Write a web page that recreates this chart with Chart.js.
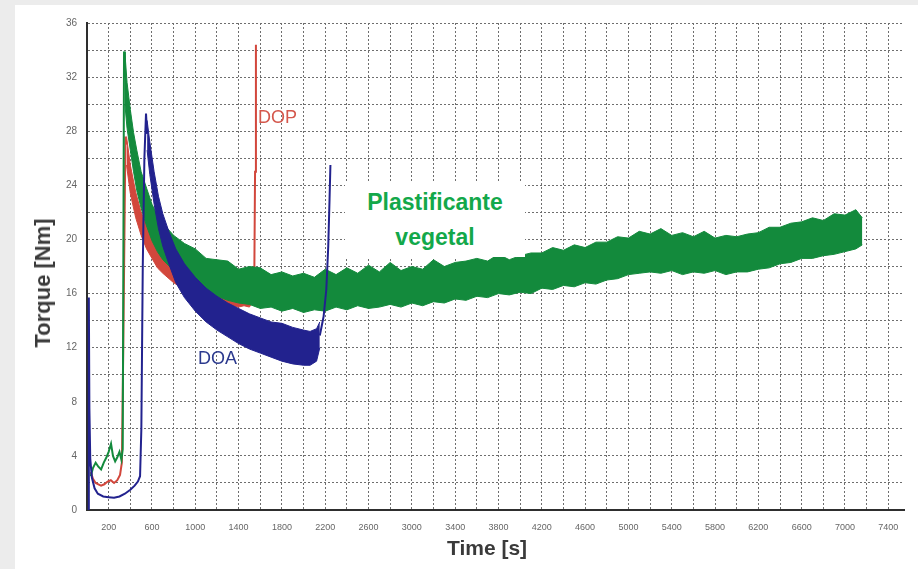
<!DOCTYPE html>
<html>
<head>
<meta charset="utf-8">
<script src="https://cdn.jsdelivr.net/npm/chart.js@4.4.1/dist/chart.umd.min.js"></script>
<style>
  html,body{margin:0;padding:0;background:#ececec;width:918px;height:569px;overflow:hidden;font-family:"Liberation Sans",Arial,sans-serif;}
  #panel{position:absolute;left:15px;top:5px;width:903px;height:564px;background:#fff;}
  canvas{position:absolute;left:0;top:0;}
  .lbl{position:absolute;white-space:nowrap;font-family:"Liberation Sans",Arial,sans-serif;}
  #dop{left:243px;top:102px;font-size:18px;color:#d4574c;}
  #doa{left:183px;top:343px;font-size:18px;color:#2c3a8e;}
  #ytitle{left:28px;top:278px;width:0;height:0;font-size:22px;font-weight:bold;color:#3a3a3a;}
  #ytitle span{position:absolute;left:0;top:0;transform:translate(-50%,-50%) rotate(-90deg);}
  #xtitle{left:472px;top:543px;width:0;height:0;font-size:21px;font-weight:bold;color:#3a3a3a;}
  #xtitle span{position:absolute;left:0;top:0;transform:translate(-50%,-50%);}
  #box{position:absolute;left:330px;top:177px;width:180px;height:75px;background:#fff;text-align:center;
       color:#13a84a;font-weight:bold;font-size:23px;line-height:35px;padding-top:3px;box-sizing:border-box;}
</style>
</head>
<body>
<div id="panel">
  <canvas id="c" width="903" height="564"></canvas>
  <div class="lbl" id="dop">DOP</div>
  <div class="lbl" id="doa">DOA</div>
  <div class="lbl" id="ytitle"><span>Torque [Nm]</span></div>
  <div class="lbl" id="xtitle"><span>Time [s]</span></div>
  <div id="box">Plastificante<br>vegetal</div>
</div>
<script>
// ---- tick labels ----
const xTickLabels = [200,600,1000,1400,1800,2200,2600,3000,3400,3800,4200,4600,5000,5400,5800,6200,6600,7000,7400];
const yTickLabels = [0,4,8,12,16,20,24,28,32,36];

// ---- Plastificante vegetal (green) ----
const greenEarlyT = [35,55,80,105,130,155,180,200,222,240,260,280,300,318,330,342,350];
const greenEarlyV = [2.5,3.1,3.5,3.2,3.0,3.5,3.9,4.3,4.9,4.0,3.6,3.9,4.3,3.7,4.5,33.9,32.0];
const greenBandT = [350,370,400,430,460,500,550,600,650,700,800,900,1000,1100,1200,1300,1400,1500,1600,1700,1800,1900,2000,2100,2200,2300,2400,2500,2600,2700,2800,2900,3000,3100,3200,3300,3400,3500,3600,3700,3800,3900,4000,4100,4200,4300,4400,4500,4600,4700,4800,4900,5000,5100,5200,5300,5400,5500,5600,5700,5800,5900,6000,6100,6200,6300,6400,6500,6600,6700,6800,6900,7000,7100,7160];
const greenBandUpper = [33.8,31.6,29.6,27.9,26.6,25.0,23.8,22.6,21.8,21.2,20.3,19.7,19.3,18.6,18.5,18.4,17.8,18.0,17.9,17.4,17.6,17.3,17.5,17.2,17.8,17.4,17.9,17.5,18.1,17.6,18.3,17.7,18.0,17.8,18.5,18.0,18.3,18.4,18.6,18.4,18.9,18.5,18.8,19.0,19.0,19.4,19.2,19.6,19.4,19.8,19.8,20.2,20.1,20.6,20.4,20.8,20.3,20.5,20.2,20.6,20.1,20.3,20.2,20.4,20.5,20.9,20.9,21.2,21.3,21.6,21.4,21.9,21.8,22.2,21.6];
const greenBandLower = [30.0,28.2,26.6,25.0,23.6,22.3,21.0,19.9,19.1,18.5,17.7,16.9,16.6,16.0,15.8,15.5,15.3,15.2,14.9,15.0,14.7,14.9,14.6,14.8,14.7,15.0,14.8,15.1,14.9,15.0,15.2,15.0,15.3,15.1,15.4,15.3,15.6,15.5,15.8,15.7,16.0,15.9,16.1,16.0,16.4,16.3,16.6,16.5,16.8,16.7,17.0,17.1,17.4,17.5,17.6,17.5,17.7,17.4,17.6,17.5,17.7,17.4,17.6,17.6,17.8,17.9,18.2,18.3,18.6,18.6,18.8,18.9,19.1,19.3,19.6];

// ---- DOP (red) ----
const redEarlyT = [35,55,80,105,130,160,190,220,250,280,305,322,335,355,365];
const redEarlyV = [2.8,2.3,2.0,1.9,1.8,1.9,2.1,2.2,2.0,2.2,2.6,3.5,12,27.6,27.0];
const redBandT = [365,400,450,500,550,600,650,700,800,900,1000,1100,1200,1300,1400,1450,1500,1530];
const redBandUpper = [27.6,25.5,23.5,22.0,21.1,20.1,19.7,19.0,18.4,17.8,17.6,17.1,17.0,16.7,16.8,16.6,16.8,16.9];
const redBandLower = [25.5,23.4,21.6,20.3,19.3,18.6,17.9,17.5,16.8,16.3,15.9,15.6,15.4,15.2,15.0,15.1,15.0,15.4];
const redSpikeT = [1530,1545,1552,1560];
const redSpikeV = [16.3,17.2,25.0,34.4];

// ---- DOA (blue) ----
const blueEarlyT = [15,17,22,30,45,70,100,150,200,250,300,350,400,440,470,490,502,515,530,545,555];
const blueEarlyV = [0,15.7,7.5,3.8,2.4,1.6,1.2,1.0,0.95,0.9,1.0,1.2,1.5,1.8,2.1,2.5,6,18,26,29.3,27.8];
const blueBandT = [555,580,620,660,700,760,820,900,1000,1100,1200,1300,1400,1500,1600,1700,1800,1900,2000,2060,2120,2150];
const blueBandUpper = [28.8,27.2,25.0,23.2,21.9,20.5,19.3,18.2,17.2,16.4,15.8,15.3,14.9,14.5,14.2,13.9,13.8,13.5,13.3,13.2,13.4,13.9];
const blueBandLower = [26.6,24.8,22.6,20.8,19.5,18.1,16.8,15.7,14.7,13.9,13.3,12.8,12.3,11.9,11.6,11.3,11.0,10.8,10.7,10.7,11.0,12.0];
const blueRiseT = [2150,2185,2210,2228,2240,2248];
const blueRiseV = [12.9,14.3,16.3,19.5,23.0,25.5];

const GREEN = '#138a3c', RED = '#d2473c', BLUE = '#22228e';
const pts = (T, V) => T.map((t, i) => ({x: t, y: V[i]}));
const line = (data, color, w, extra) => Object.assign({data, borderColor: color, borderWidth: w, pointRadius: 0, fill: false, tension: 0}, extra || {});

const datasets = [
  line(pts(blueBandT, blueBandUpper), BLUE, 1),
  line(pts(blueBandT, blueBandLower), BLUE, 1, {fill: '-1', backgroundColor: BLUE}),
  line(pts(blueEarlyT, blueEarlyV), BLUE, 2),
  line(pts(blueRiseT, blueRiseV), BLUE, 2),
  line(pts(greenBandT, greenBandUpper), GREEN, 1),
  line(pts(greenBandT, greenBandLower), GREEN, 1, {fill: '-1', backgroundColor: GREEN}),
  line(pts(greenEarlyT, greenEarlyV), GREEN, 2),
  line(pts(redBandT, redBandUpper), RED, 1),
  line(pts(redBandT, redBandLower), RED, 1, {fill: '-1', backgroundColor: RED}),
  line(pts(redEarlyT, redEarlyV), RED, 2),
  line(pts(redSpikeT, redSpikeV), RED, 2)
];

new Chart(document.getElementById('c'), {
  type: 'line',
  data: {datasets},
  options: {
    responsive: false,
    animation: false,
    devicePixelRatio: 1,
    layout: {padding: {left: 0, top: 18, right: 14, bottom: 0}},
    plugins: {legend: {display: false}, tooltip: {enabled: false}},
    scales: {
      x: {
        type: 'linear', min: 0, max: 7545,
        afterFit: s => { s.height = 59; },
        grid: {color: '#6e6e6e', lineWidth: 1, drawTicks: false},
        border: {display: true, color: '#2e2e2e', width: 2, dash: [2, 2]},
        ticks: {
          stepSize: 200, includeBounds: false, autoSkip: false, maxRotation: 0, minRotation: 0, padding: 12,
          color: '#666', font: {size: 9, family: 'Liberation Sans'},
          callback: v => xTickLabels.includes(v) ? String(v) : ''
        }
      },
      y: {
        type: 'linear', min: 0, max: 36,
        afterFit: s => { s.width = 72; },
        grid: {color: '#6e6e6e', lineWidth: 1, drawTicks: false},
        border: {display: true, color: '#2e2e2e', width: 2, dash: [2, 2]},
        ticks: {
          stepSize: 2, includeBounds: false, autoSkip: false, padding: 10,
          color: '#666', font: {size: 10, family: 'Liberation Sans'},
          callback: v => yTickLabels.includes(v) ? String(v) : ''
        }
      }
    }
  }
});
</script>
</body>
</html>
